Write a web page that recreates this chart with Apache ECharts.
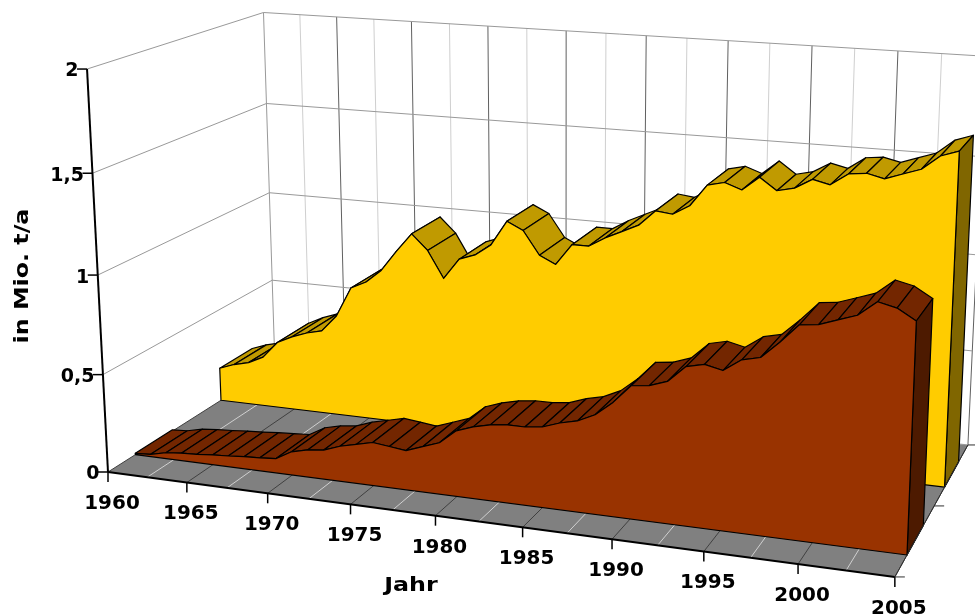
<!DOCTYPE html>
<html>
<head>
<meta charset="utf-8">
<style>html,body{margin:0;padding:0;background:#fff}#c{width:975px;height:614px}</style>
<script src="https://cdn.jsdelivr.net/npm/echarts@6/dist/echarts.min.js"></script>
</head>
<body>
<div id="c"></div>
<script>
const years = [1960,1961,1962,1963,1964,1965,1966,1967,1968,1969,1970,1971,1972,1973,1974,1975,1976,1977,1978,1979,1980,1981,1982,1983,1984,1985,1986,1987,1988,1989,1990,1991,1992,1993,1994,1995,1996,1997,1998,1999,2000,2001,2002,2003,2004,2005];
const goldValues = [0.18,0.21,0.23,0.27,0.36,0.40,0.43,0.45,0.54,0.70,0.74,0.81,0.92,1.02,0.94,0.80,0.91,0.94,1.00,1.13,1.09,0.97,0.93,1.04,1.04,1.09,1.13,1.17,1.25,1.24,1.29,1.40,1.42,1.39,1.46,1.40,1.42,1.47,1.45,1.51,1.52,1.50,1.53,1.56,1.63,1.66];
const brownValues = [0.007,0.012,0.031,0.039,0.044,0.051,0.056,0.063,0.068,0.074,0.12,0.14,0.15,0.18,0.20,0.22,0.21,0.20,0.23,0.26,0.33,0.36,0.38,0.39,0.39,0.40,0.43,0.45,0.49,0.56,0.65,0.66,0.69,0.77,0.79,0.77,0.83,0.85,0.93,1.02,1.03,1.06,1.09,1.16,1.14,1.09];
const valueTicks = [0,0.5,1,1.5,2];
const valueTickLabels = ['0','0,5','1','1,5','2'];
const yearTicks = [1960,1965,1970,1975,1980,1985,1990,1995,2000,2005];
const yearMinorTicks = [1962.5,1967.5,1972.5,1977.5,1982.5,1987.5,1992.5,1997.5,2002.5];
const depthTicks = [0,0.5,1];
const goldBand = [0.646,0.854];
const brownBand = [0.146,0.354];
const yearMin = 1960, yearMax = 2005, valueMax = 2;
const gridBox = {left:100, top:100, width:450, height:200};

const FONT = 'bold 19px "DejaVu Sans"';

function proj(api, year, value, depth){
  const a = api.coord([year, value]);
  const t = (a[0]-gridBox.left)/gridBox.width*(yearMax-yearMin);
  const v = (gridBox.top+gridBox.height-a[1])/gridBox.height*valueMax;
  const den = 1 - 0.00242*t + 0.147*depth - 0.02206*v;
  return [(108 + 15.32*t + 207.4*depth - 12.4*v)/den,
          (472 + 0.936*t - 52.2*depth - 203*v)/den];
}
const poly = (points, fill, stroke, lw) => ({type:'polygon', silent:true, shape:{points}, style:{fill, stroke:stroke||null, lineWidth:lw===undefined?1.2:lw, lineJoin:'round'}});
const line = (a, b, stroke, lw) => ({type:'line', silent:true, shape:{x1:a[0],y1:a[1],x2:b[0],y2:b[1]}, style:{stroke, lineWidth:lw||1}});
const text = (s, x, y, align, sx, extra) => Object.assign({type:'text', silent:true, x, y, scaleX:sx, style:{text:s, font:FONT, fill:'#000', textAlign:align, textVerticalAlign:'middle'}}, extra||{});

function renderFrame(params, api){
  const c = [];
  const p = (y,v,d)=>proj(api,y,v,d);
  c.push(poly([p(yearMin,0,0),p(yearMin,valueMax,0),p(yearMin,valueMax,1),p(yearMin,0,1)],'#fff'));
  c.push(poly([p(yearMin,0,1),p(yearMin,valueMax,1),p(yearMax,valueMax,1),p(yearMax,0,1)],'#fff'));
  c.push(poly([p(yearMin,0,0),p(yearMax,0,0),p(yearMax,0,1),p(yearMin,0,1)],'#808080'));
  yearMinorTicks.forEach(y=>{
    c.push(line(p(y,0,0),p(y,0,1),'#d0d0d0'));
    c.push(line(p(y,0,1),p(y,valueMax,1),'#cfcfcf'));
  });
  yearTicks.forEach(y=>{
    c.push(line(p(y,0,0),p(y,0,1),'#404040'));
    c.push(line(p(y,0,1),p(y,valueMax,1),y===yearMin?'#999':'#606060'));
  });
  valueTicks.forEach(v=>{
    if(v>0){
      c.push(line(p(yearMin,v,0),p(yearMin,v,1),'#999'));
    }
    c.push(line(p(yearMin,v,1),p(yearMax,v,1),'#999'));
  });
  return {type:'group', children:c};
}

function bandRenderer(values, band, colors){
  return function(params, api){
    const i = params.dataIndex;
    const c = [];
    const y = api.value(0), v = api.value(1);
    if(i < values.length-1){
      const y2 = years[i+1], v2 = values[i+1];
      c.push(poly([proj(api,y,v,band[0]),proj(api,y2,v2,band[0]),proj(api,y2,v2,band[1]),proj(api,y,v,band[1])],colors.top,'#000'));
    } else {
      c.push(poly([proj(api,y,0,band[0]),proj(api,y,v,band[0]),proj(api,y,v,band[1]),proj(api,y,0,band[1])],colors.side,'#000'));
      const pts = [proj(api,yearMin,0,band[0])];
      years.forEach((yy,k)=>pts.push(proj(api,yy,values[k],band[0])));
      pts.push(proj(api,yearMax,0,band[0]));
      c.push(poly(pts,colors.front,'#000'));
    }
    return {type:'group', children:c};
  };
}

function renderAxes(params, api){
  const c = [];
  const p = (y,v,d)=>proj(api,y,v,d);
  c.push(line(p(yearMin,0,0),p(yearMin,valueMax,0),'#000',2));
  c.push(line(p(yearMin,0,0),p(yearMax,0,0),'#000',2));
  c.push(line(p(yearMax,0,0),p(yearMax,0,1),'#303030',1));
  valueTicks.forEach((v,k)=>{
    const a = p(yearMin,v,0);
    c.push(line([a[0]-10,a[1]],a,'#000',1.5));
    c.push(text(valueTickLabels[k],a[0]-8.5,a[1]+2.5,'right',1));
  });
  yearTicks.forEach(y=>{
    const a = p(y,0,0);
    c.push(line(a,[a[0],a[1]+10],'#000',1.5));
    c.push(text(String(y),a[0]+4,a[1]+32,'center',1.05));
  });
  depthTicks.forEach(d=>{
    const a = p(yearMax,0,d);
    c.push(line(a,[a[0]+10,a[1]],'#303030',1));
  });
  c.push(text('Jahr',411,586,'center',1.25));
  c.push(text('in Mio. t/a',23,276,'center',1.25,{rotation:Math.PI/2}));
  return {type:'group', children:c};
}

const chart = echarts.init(document.getElementById('c'), null, {renderer:'canvas'});
chart.setOption({
  animation:false,
  backgroundColor:'#fff',
  tooltip:{show:false},
  grid:Object.assign({}, gridBox),
  xAxis:{type:'value', min:yearMin, max:yearMax, show:false},
  yAxis:{type:'value', min:0, max:valueMax, show:false},
  series:[
    {type:'custom', name:'frame', z:1, clip:false, data:[[yearMin,0]], renderItem:renderFrame, silent:true},
    {type:'custom', name:'Gold', z:2, clip:false, data:years.map((y,i)=>[y,goldValues[i]]), encode:{x:0,y:1}, silent:true,
      renderItem:bandRenderer(goldValues,goldBand,{top:'#C09A00',side:'#806600',front:'#FFCC00'})},
    {type:'custom', name:'Braun', z:3, clip:false, data:years.map((y,i)=>[y,brownValues[i]]), encode:{x:0,y:1}, silent:true,
      renderItem:bandRenderer(brownValues,brownBand,{top:'#732600',side:'#4D1A00',front:'#993300'})},
    {type:'custom', name:'axes', z:4, clip:false, data:[[yearMin,0]], renderItem:renderAxes, silent:true}
  ]
});
</script>
</body>
</html>
